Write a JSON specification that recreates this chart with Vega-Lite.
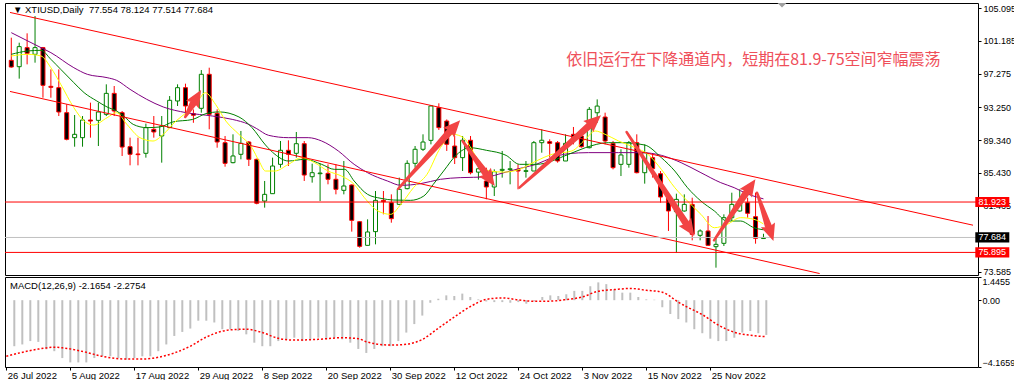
{
  "$schema": "https://vega.github.io/schema/vega-lite/v6.json",
  "background": "#ffffff",
  "padding": {"left": 2, "top": 2, "right": 0, "bottom": 0},
  "spacing": 2,
  "bounds": "flush",
  "config": {
    "view": {"stroke": "#000000", "strokeWidth": 1},
    "axis": {"labelFont": "Liberation Sans", "labelFontSize": 9, "labelColor": "#000000", "tickColor": "#000000", "tickSize": 3, "labelPadding": 2, "grid": false, "domain": false, "labelOverlap": false},
    "text": {"font": "Liberation Sans"}
  },
  "datasets": {
    "candles": [
      {"i":0,"o":98.87,"h":101.58,"l":97.99,"c":98.07},
      {"i":1,"o":98.11,"h":100.98,"l":96.68,"c":100.51},
      {"i":2,"o":100.39,"h":102.10,"l":98.39,"c":99.71},
      {"i":3,"o":99.59,"h":104.17,"l":98.59,"c":100.39},
      {"i":4,"o":100.39,"h":100.47,"l":94.40,"c":95.88},
      {"i":5,"o":95.76,"h":97.79,"l":94.40,"c":95.64},
      {"i":6,"o":95.60,"h":97.79,"l":92.21,"c":92.69},
      {"i":7,"o":92.61,"h":93.61,"l":89.30,"c":89.42},
      {"i":8,"o":89.62,"h":92.33,"l":88.54,"c":90.02},
      {"i":9,"o":89.62,"h":92.21,"l":88.54,"c":91.73},
      {"i":10,"o":91.73,"h":93.81,"l":89.62,"c":91.61},
      {"i":11,"o":91.69,"h":93.81,"l":88.62,"c":92.69},
      {"i":12,"o":92.41,"h":96.00,"l":92.21,"c":94.92},
      {"i":13,"o":94.92,"h":95.80,"l":92.21,"c":92.81},
      {"i":14,"o":92.61,"h":92.81,"l":87.43,"c":88.50},
      {"i":15,"o":88.54,"h":89.62,"l":86.31,"c":87.63},
      {"i":16,"o":87.67,"h":89.62,"l":86.31,"c":87.59},
      {"i":17,"o":87.75,"h":91.30,"l":87.23,"c":90.82},
      {"i":18,"o":90.62,"h":92.21,"l":89.62,"c":90.30},
      {"i":19,"o":89.82,"h":92.21,"l":86.63,"c":91.02},
      {"i":20,"o":90.82,"h":94.60,"l":90.82,"c":94.09},
      {"i":21,"o":94.01,"h":96.00,"l":93.41,"c":95.60},
      {"i":22,"o":95.60,"h":96.08,"l":92.41,"c":93.41},
      {"i":23,"o":92.50,"h":93.00,"l":91.40,"c":92.30},
      {"i":24,"o":93.13,"h":97.71,"l":92.61,"c":97.20},
      {"i":25,"o":97.20,"h":97.99,"l":90.62,"c":92.41},
      {"i":26,"o":92.53,"h":93.01,"l":88.42,"c":89.10},
      {"i":27,"o":89.02,"h":89.82,"l":86.15,"c":86.55},
      {"i":28,"o":86.63,"h":90.02,"l":86.55,"c":87.43},
      {"i":29,"o":87.63,"h":90.42,"l":87.03,"c":88.94},
      {"i":30,"o":89.10,"h":89.22,"l":86.23,"c":87.03},
      {"i":31,"o":87.03,"h":87.11,"l":81.65,"c":81.77},
      {"i":32,"o":82.04,"h":84.44,"l":81.25,"c":82.84},
      {"i":33,"o":82.92,"h":87.23,"l":82.92,"c":86.23},
      {"i":34,"o":86.43,"h":89.22,"l":86.03,"c":88.11},
      {"i":35,"o":88.11,"h":89.30,"l":86.23,"c":87.63},
      {"i":36,"o":87.75,"h":90.30,"l":87.23,"c":88.90},
      {"i":37,"o":88.90,"h":89.22,"l":84.44,"c":85.15},
      {"i":38,"o":84.95,"h":86.51,"l":84.24,"c":85.43},
      {"i":39,"o":85.31,"h":86.51,"l":82.04,"c":85.39},
      {"i":40,"o":85.35,"h":86.43,"l":84.04,"c":84.64},
      {"i":41,"o":84.64,"h":86.43,"l":82.84,"c":83.44},
      {"i":42,"o":83.32,"h":86.83,"l":82.84,"c":83.84},
      {"i":43,"o":83.96,"h":84.04,"l":78.38,"c":79.73},
      {"i":44,"o":79.57,"h":79.65,"l":76.46,"c":76.62},
      {"i":45,"o":76.74,"h":79.85,"l":76.74,"c":78.34},
      {"i":46,"o":78.38,"h":83.24,"l":76.86,"c":82.12},
      {"i":47,"o":82.12,"h":83.24,"l":80.45,"c":81.96},
      {"i":48,"o":81.84,"h":82.84,"l":79.45,"c":79.93},
      {"i":49,"o":81.64,"h":84.84,"l":81.64,"c":83.44},
      {"i":50,"o":83.52,"h":86.91,"l":83.44,"c":86.55},
      {"i":51,"o":86.55,"h":88.62,"l":86.03,"c":88.23},
      {"i":52,"o":88.23,"h":90.02,"l":88.03,"c":89.10},
      {"i":53,"o":89.30,"h":93.53,"l":88.82,"c":93.41},
      {"i":54,"o":93.21,"h":93.73,"l":90.54,"c":90.82},
      {"i":55,"o":91.61,"h":91.80,"l":88.03,"c":88.83},
      {"i":56,"o":88.62,"h":89.82,"l":86.47,"c":87.23},
      {"i":57,"o":87.23,"h":89.82,"l":85.63,"c":89.31},
      {"i":58,"o":89.31,"h":89.82,"l":85.23,"c":85.43},
      {"i":59,"o":85.50,"h":87.00,"l":84.60,"c":85.90},
      {"i":60,"o":84.44,"h":86.03,"l":82.25,"c":83.72},
      {"i":61,"o":83.72,"h":85.83,"l":82.64,"c":85.55},
      {"i":62,"o":85.71,"h":88.03,"l":84.84,"c":85.83},
      {"i":63,"o":85.80,"h":86.83,"l":84.04,"c":85.90},
      {"i":64,"o":85.83,"h":86.43,"l":83.44,"c":85.63},
      {"i":65,"o":85.59,"h":86.83,"l":84.84,"c":85.67},
      {"i":66,"o":85.63,"h":89.22,"l":85.63,"c":89.02},
      {"i":67,"o":89.02,"h":90.62,"l":87.82,"c":89.31},
      {"i":68,"o":89.14,"h":89.42,"l":87.23,"c":88.94},
      {"i":69,"o":89.02,"h":89.22,"l":86.63,"c":86.83},
      {"i":70,"o":86.83,"h":90.02,"l":86.83,"c":88.94},
      {"i":71,"o":90.02,"h":90.90,"l":88.82,"c":89.62},
      {"i":72,"o":89.82,"h":90.42,"l":88.42,"c":88.54},
      {"i":73,"o":88.42,"h":93.29,"l":88.34,"c":93.01},
      {"i":74,"o":92.60,"h":94.20,"l":91.40,"c":93.40},
      {"i":75,"o":92.09,"h":92.61,"l":88.82,"c":89.22},
      {"i":76,"o":88.94,"h":89.22,"l":85.83,"c":86.03},
      {"i":77,"o":86.43,"h":88.23,"l":85.03,"c":87.55},
      {"i":78,"o":86.43,"h":89.22,"l":86.03,"c":89.02},
      {"i":79,"o":89.02,"h":90.02,"l":85.35,"c":85.43},
      {"i":80,"o":85.43,"h":88.82,"l":84.12,"c":87.83},
      {"i":81,"o":87.23,"h":87.63,"l":84.84,"c":85.91},
      {"i":82,"o":85.31,"h":85.63,"l":81.84,"c":82.52},
      {"i":83,"o":82.44,"h":82.64,"l":78.46,"c":80.85},
      {"i":84,"o":80.77,"h":82.92,"l":75.86,"c":82.24},
      {"i":85,"o":80.85,"h":82.84,"l":80.77,"c":81.64},
      {"i":86,"o":81.64,"h":82.44,"l":77.34,"c":78.06},
      {"i":87,"o":77.94,"h":78.65,"l":77.34,"c":78.46},
      {"i":88,"o":78.46,"h":80.25,"l":76.66,"c":76.74},
      {"i":89,"o":76.58,"h":77.66,"l":74.07,"c":76.86},
      {"i":90,"o":76.98,"h":80.45,"l":76.66,"c":80.05},
      {"i":91,"o":80.05,"h":83.04,"l":79.65,"c":81.64},
      {"i":92,"o":80.85,"h":83.44,"l":80.77,"c":81.92},
      {"i":93,"o":81.84,"h":82.44,"l":80.05,"c":80.57},
      {"i":94,"o":80.17,"h":83.04,"l":76.94,"c":77.58},
      {"i":95,"o":77.554,"h":78.124,"l":77.514,"c":77.684}
    ],
    "ma": [
      {"ma":"slow","i":0,"p":102.18},{"ma":"slow","i":3.75,"p":100.39},{"ma":"slow","i":5,"p":99.79},{"ma":"slow","i":7.9,"p":97.99},{"ma":"slow","i":9.6,"p":97.2},{"ma":"slow","i":12.1,"p":96.8},{"ma":"slow","i":13.3,"p":96.48},{"ma":"slow","i":15,"p":95.4},{"ma":"slow","i":17.1,"p":94.21},{"ma":"slow","i":19.2,"p":93.29},{"ma":"slow","i":22.1,"p":92.61},{"ma":"slow","i":25.4,"p":92.21},{"ma":"slow","i":27.9,"p":91.81},{"ma":"slow","i":30,"p":91.21},{"ma":"slow","i":31,"p":90.7},{"ma":"slow","i":32.5,"p":89.9},{"ma":"slow","i":35,"p":89.62},{"ma":"slow","i":37.5,"p":89.62},{"ma":"slow","i":39.2,"p":89.22},{"ma":"slow","i":41.3,"p":88.03},{"ma":"slow","i":43.3,"p":86.43},{"ma":"slow","i":45,"p":85.43},{"ma":"slow","i":47.5,"p":84.44},{"ma":"slow","i":49.2,"p":83.92},{"ma":"slow","i":51.7,"p":84.12},{"ma":"slow","i":54.2,"p":84.64},{"ma":"slow","i":56.7,"p":84.84},{"ma":"slow","i":60,"p":84.92},{"ma":"slow","i":62.1,"p":85.4},{"ma":"slow","i":64.6,"p":86.03},{"ma":"slow","i":66.3,"p":86.43},{"ma":"slow","i":68.3,"p":87.23},{"ma":"slow","i":70.4,"p":87.71},{"ma":"slow","i":72.9,"p":87.83},{"ma":"slow","i":76.7,"p":87.83},{"ma":"slow","i":79.6,"p":87.83},{"ma":"slow","i":82.1,"p":87.51},{"ma":"slow","i":84.6,"p":86.63},{"ma":"slow","i":87.1,"p":85.43},{"ma":"slow","i":89.6,"p":84.24},{"ma":"slow","i":91.3,"p":83.64},{"ma":"slow","i":92.9,"p":82.92},{"ma":"slow","i":95,"p":82.3},
      {"ma":"mid","i":0,"p":99.59},{"ma":"mid","i":2.1,"p":99.99},{"ma":"mid","i":3.75,"p":100.07},{"ma":"mid","i":5,"p":98.99},{"ma":"mid","i":6.25,"p":97.79},{"ma":"mid","i":7.9,"p":96.2},{"ma":"mid","i":9.2,"p":95.0},{"ma":"mid","i":10.8,"p":94.01},{"ma":"mid","i":12.1,"p":93.29},{"ma":"mid","i":13.3,"p":92.81},{"ma":"mid","i":14.2,"p":92.21},{"ma":"mid","i":15.4,"p":91.21},{"ma":"mid","i":17.1,"p":90.82},{"ma":"mid","i":18.75,"p":90.9},{"ma":"mid","i":20.4,"p":91.5},{"ma":"mid","i":22.9,"p":91.8},{"ma":"mid","i":24.6,"p":92.5},{"ma":"mid","i":26.25,"p":92.7},{"ma":"mid","i":28.75,"p":92.1},{"ma":"mid","i":30.4,"p":90.82},{"ma":"mid","i":32.1,"p":88.75},{"ma":"mid","i":33.3,"p":87.63},{"ma":"mid","i":35,"p":86.83},{"ma":"mid","i":37.1,"p":87.03},{"ma":"mid","i":39.2,"p":86.43},{"ma":"mid","i":40.8,"p":85.83},{"ma":"mid","i":42.1,"p":85.83},{"ma":"mid","i":43.3,"p":84.44},{"ma":"mid","i":45,"p":82.84},{"ma":"mid","i":46.7,"p":82.36},{"ma":"mid","i":48.3,"p":82.16},{"ma":"mid","i":50.4,"p":82.12},{"ma":"mid","i":52.1,"p":82.64},{"ma":"mid","i":53.3,"p":84.04},{"ma":"mid","i":54.6,"p":85.63},{"ma":"mid","i":56.3,"p":87.63},{"ma":"mid","i":57.9,"p":88.42},{"ma":"mid","i":60,"p":88.11},{"ma":"mid","i":62.5,"p":87.5},{"ma":"mid","i":64.2,"p":86.43},{"ma":"mid","i":66.3,"p":86.43},{"ma":"mid","i":70.4,"p":87.63},{"ma":"mid","i":72.5,"p":88.42},{"ma":"mid","i":75.4,"p":89.02},{"ma":"mid","i":77.1,"p":89.02},{"ma":"mid","i":80,"p":88.74},{"ma":"mid","i":82.1,"p":87.23},{"ma":"mid","i":83.8,"p":85.63},{"ma":"mid","i":85.4,"p":83.64},{"ma":"mid","i":87.1,"p":82.04},{"ma":"mid","i":88.8,"p":80.85},{"ma":"mid","i":90.4,"p":79.65},{"ma":"mid","i":92.1,"p":79.65},{"ma":"mid","i":93.8,"p":78.85},{"ma":"mid","i":95,"p":78.6},
      {"ma":"fast","i":0,"p":99.39},{"ma":"fast","i":2.1,"p":99.59},{"ma":"fast","i":3.75,"p":99.39},{"ma":"fast","i":5,"p":97.99},{"ma":"fast","i":6.25,"p":96.0},{"ma":"fast","i":7.9,"p":93.21},{"ma":"fast","i":9.2,"p":91.61},{"ma":"fast","i":10.4,"p":91.13},{"ma":"fast","i":12.1,"p":92.01},{"ma":"fast","i":13.3,"p":92.61},{"ma":"fast","i":14.6,"p":91.21},{"ma":"fast","i":16.25,"p":89.62},{"ma":"fast","i":17.9,"p":89.22},{"ma":"fast","i":19.2,"p":90.02},{"ma":"fast","i":20.8,"p":91.61},{"ma":"fast","i":22.1,"p":92.6},{"ma":"fast","i":23.3,"p":93.6},{"ma":"fast","i":24.5,"p":95.0},{"ma":"fast","i":25.8,"p":93.6},{"ma":"fast","i":27.1,"p":91.61},{"ma":"fast","i":28.75,"p":90.02},{"ma":"fast","i":30.4,"p":88.4},{"ma":"fast","i":31.3,"p":86.8},{"ma":"fast","i":32.1,"p":85.63},{"ma":"fast","i":33.3,"p":85.63},{"ma":"fast","i":35,"p":86.43},{"ma":"fast","i":36.7,"p":87.23},{"ma":"fast","i":38.3,"p":86.63},{"ma":"fast","i":40,"p":85.63},{"ma":"fast","i":41.7,"p":85.03},{"ma":"fast","i":43.3,"p":84.04},{"ma":"fast","i":44.6,"p":82.44},{"ma":"fast","i":46.3,"p":80.85},{"ma":"fast","i":47.9,"p":80.45},{"ma":"fast","i":49.2,"p":81.64},{"ma":"fast","i":50.8,"p":83.64},{"ma":"fast","i":52.5,"p":85.23},{"ma":"fast","i":54.2,"p":88.42},{"ma":"fast","i":55.8,"p":90.02},{"ma":"fast","i":57.1,"p":89.62},{"ma":"fast","i":58.8,"p":87.23},{"ma":"fast","i":60.4,"p":85.63},{"ma":"fast","i":62.3,"p":85.5},{"ma":"fast","i":64.2,"p":85.83},{"ma":"fast","i":66.3,"p":86.83},{"ma":"fast","i":68.3,"p":87.63},{"ma":"fast","i":70.8,"p":88.03},{"ma":"fast","i":72.5,"p":89.42},{"ma":"fast","i":73.75,"p":90.42},{"ma":"fast","i":75,"p":90.02},{"ma":"fast","i":76.7,"p":89.22},{"ma":"fast","i":78.8,"p":88.42},{"ma":"fast","i":80.4,"p":87.63},{"ma":"fast","i":82.1,"p":85.83},{"ma":"fast","i":83.8,"p":83.64},{"ma":"fast","i":85.4,"p":82.04},{"ma":"fast","i":87.1,"p":80.45},{"ma":"fast","i":88.8,"p":78.85},{"ma":"fast","i":90.4,"p":79.25},{"ma":"fast","i":92.1,"p":80.05},{"ma":"fast","i":93.8,"p":79.85},{"ma":"fast","i":95,"p":79.3}
    ],
    "channels": [
      {"i0":-0.1625,"p0":104.6,"i1":121.4625,"p1":79.15},
      {"i0":-0.1625,"p0":95.15,"i1":102.09,"p1":73.37}
    ],
    "levels": [
      {"name":"res","level":81.923},
      {"name":"last","level":77.684},
      {"name":"sup","level":75.895}
    ],
    "arrows": [
      {"a":1,"end":0,"i":21.96,"p":92.09},{"a":1,"end":1,"i":22.94,"p":93.67,"heading":30.6},
      {"a":2,"end":0,"i":48.84,"p":83.48},{"a":2,"end":1,"i":55.33,"p":90.29,"heading":42.4},
      {"a":3,"end":0,"i":57.0,"p":89.22},{"a":3,"end":1,"i":59.88,"p":85.39,"heading":144.2},
      {"a":4,"end":0,"i":64.18,"p":83.64},{"a":4,"end":1,"i":72.96,"p":91.03,"heading":48.7},
      {"a":5,"end":0,"i":77.71,"p":90.3},{"a":5,"end":1,"i":85.15,"p":79.46,"heading":146.7},
      {"a":6,"end":0,"i":88.75,"p":77.34},{"a":6,"end":1,"i":92.84,"p":83.06,"heading":34.4},
      {"a":7,"end":0,"i":94.18,"p":83.04},{"a":7,"end":1,"i":95.6,"p":79.08,"heading":161.0}
    ],
    "hist": [
      {"i":1,"v":-2.87},{"i":2,"v":-2.76},{"i":3,"v":-2.55},{"i":4,"v":-2.6},{"i":5,"v":-3.06},{"i":6,"v":-3.18},{"i":7,"v":-3.61},{"i":8,"v":-3.88},{"i":9,"v":-3.88},{"i":10,"v":-3.88},
      {"i":11,"v":-3.61},{"i":12,"v":-3.5},{"i":13,"v":-3.5},{"i":14,"v":-3.61},{"i":15,"v":-3.71},{"i":16,"v":-3.61},{"i":17,"v":-3.5},{"i":18,"v":-3.5},{"i":19,"v":-3.18},{"i":20,"v":-2.76},
      {"i":21,"v":-2.23},{"i":22,"v":-1.98},{"i":23,"v":-1.77},{"i":24,"v":-1.28},{"i":25,"v":-1.28},{"i":26,"v":-1.39},{"i":27,"v":-1.81},{"i":28,"v":-1.81},{"i":29,"v":-1.92},{"i":30,"v":-2.13},
      {"i":31,"v":-2.65},{"i":32,"v":-2.87},{"i":33,"v":-2.87},{"i":34,"v":-2.55},{"i":35,"v":-2.44},{"i":36,"v":-2.34},{"i":37,"v":-2.55},{"i":38,"v":-2.44},{"i":39,"v":-2.34},{"i":40,"v":-2.44},
      {"i":41,"v":-2.34},{"i":42,"v":-2.44},{"i":43,"v":-2.65},{"i":44,"v":-3.04},{"i":45,"v":-3.29},{"i":46,"v":-3.04},{"i":47,"v":-2.87},{"i":48,"v":-2.87},{"i":49,"v":-2.55},{"i":50,"v":-2.02},
      {"i":51,"v":-1.49},{"i":52,"v":-0.96},{"i":53,"v":-0.16},{"i":54,"v":0.09},{"i":55,"v":0.3},{"i":56,"v":0.26},{"i":57,"v":0.41},{"i":58,"v":0.2},{"i":59,"v":0.05},{"i":60,"v":-0.08},
      {"i":61,"v":-0.12},{"i":62,"v":-0.12},{"i":63,"v":-0.16},{"i":64,"v":-0.12},{"i":65,"v":-0.22},{"i":66,"v":-0.08},{"i":67,"v":0.2},{"i":68,"v":0.3},{"i":69,"v":0.26},{"i":70,"v":0.37},
      {"i":71,"v":0.58},{"i":72,"v":0.58},{"i":73,"v":0.87},{"i":74,"v":1.11},{"i":75,"v":1.0},{"i":76,"v":0.68},{"i":77,"v":0.47},{"i":78,"v":0.47},{"i":79,"v":0.2},{"i":80,"v":0.05},
      {"i":81,"v":0.03},{"i":82,"v":-0.44},{"i":83,"v":-0.86},{"i":84,"v":-1.18},{"i":85,"v":-1.39},{"i":86,"v":-1.81},{"i":87,"v":-2.06},{"i":88,"v":-2.4},{"i":89,"v":-2.55},{"i":90,"v":-2.55},
      {"i":91,"v":-2.34},{"i":92,"v":-2.02},{"i":93,"v":-1.92},{"i":94,"v":-2.06},{"i":95,"v":-2.1654}
    ],
    "signal": [
      {"i":0,"v":-3.5},{"i":4,"v":-3.05},{"i":6,"v":-2.93},{"i":7,"v":-2.97},{"i":10,"v":-3.25},{"i":12,"v":-3.5},{"i":15,"v":-3.67},{"i":17,"v":-3.67},{"i":19,"v":-3.56},{"i":21,"v":-3.29},
      {"i":23,"v":-2.87},{"i":25,"v":-2.3},{"i":28,"v":-1.85},{"i":30,"v":-1.81},{"i":32,"v":-2.02},{"i":34,"v":-2.38},{"i":36,"v":-2.49},{"i":39,"v":-2.44},{"i":42,"v":-2.34},{"i":44,"v":-2.4},
      {"i":45,"v":-2.59},{"i":48,"v":-2.8},{"i":50,"v":-2.75},{"i":52,"v":-2.45},{"i":54,"v":-1.75},{"i":56,"v":-1.05},{"i":58,"v":-0.4},{"i":60,"v":0.05},{"i":62,"v":0.14},{"i":64,"v":0.02},
      {"i":66,"v":-0.07},{"i":68,"v":-0.06},{"i":70,"v":0.04},{"i":72,"v":0.2},{"i":74,"v":0.56},{"i":76,"v":0.66},{"i":78,"v":0.73},{"i":80,"v":0.62},{"i":82,"v":0.5},{"i":84,"v":-0.12},
      {"i":85,"v":-0.4},{"i":87,"v":-0.9},{"i":89,"v":-1.55},{"i":91,"v":-2.0},{"i":93,"v":-2.19},{"i":95,"v":-2.2754}
    ]
  },
  "vconcat": [
    {
      "width": 973,
      "height": 272,
      "layer": [
        {
          "data": {"name": "candles"},
          "mark": {"type": "rule", "strokeWidth": 1, "clip": true},
          "encoding": {
            "x": {"field": "i", "type": "quantitative", "scale": {"domain": [-0.1625, 121.4625], "nice": false, "zero": false}, "axis": null, "title": null},
            "y": {"field": "l", "type": "quantitative", "scale": {"domain": [73.193, 105.729], "nice": false, "zero": false}, "title": null,
                  "axis": {"orient": "right", "values": [105.095, 101.185, 97.275, 93.25, 89.34, 85.43, 81.465, 73.585], "tickCount": 20, "format": ".3f", "labelFlush": false, "labelOverlap": false, "title": null}},
            "y2": {"field": "h"},
            "color": {"condition": {"test": "datum.c >= datum.o", "value": "#008000"}, "value": "#ff0000"}
          }
        },
        {
          "data": {"name": "candles"},
          "mark": {"type": "bar", "size": 4, "strokeWidth": 1, "clip": true},
          "encoding": {
            "x": {"field": "i", "type": "quantitative", "axis": null, "title": null},
            "y": {"field": "o", "type": "quantitative", "title": null},
            "y2": {"field": "c"},
            "fill": {"condition": {"test": "datum.c >= datum.o", "value": "#ffffff"}, "value": "#000000"},
            "stroke": {"condition": {"test": "datum.c >= datum.o", "value": "#008000"}, "value": "#ff0000"}
          }
        },
        {
          "data": {"name": "ma"},
          "mark": {"type": "line", "strokeWidth": 1, "interpolate": "monotone", "clip": true},
          "encoding": {
            "x": {"field": "i", "type": "quantitative", "axis": null, "title": null},
            "y": {"field": "p", "type": "quantitative", "title": null},
            "color": {"field": "ma", "type": "nominal", "scale": {"domain": ["fast", "mid", "slow"], "range": ["#ffff00", "#008000", "#800080"]}, "legend": null}
          }
        },
        {
          "data": {"name": "channels"},
          "mark": {"type": "rule", "color": "#ff0000", "strokeWidth": 1, "clip": true},
          "encoding": {
            "x": {"field": "i0", "type": "quantitative", "axis": null, "title": null},
            "x2": {"field": "i1"},
            "y": {"field": "p0", "type": "quantitative", "title": null},
            "y2": {"field": "p1"}
          }
        },
        {
          "data": {"name": "levels"},
          "mark": {"type": "rule", "strokeWidth": 1},
          "encoding": {
            "y": {"field": "level", "type": "quantitative", "title": null},
            "color": {"condition": {"test": "datum.name == 'last'", "value": "#c0c0c0"}, "value": "#ff0000"}
          }
        },
        {
          "data": {"name": "arrows"},
          "mark": {"type": "trail", "color": "#f24444", "clip": true},
          "encoding": {
            "x": {"field": "i", "type": "quantitative", "axis": null, "title": null},
            "y": {"field": "p", "type": "quantitative", "title": null},
            "detail": {"field": "a", "type": "nominal"},
            "order": {"field": "end", "type": "quantitative"},
            "size": {"field": "end", "type": "quantitative", "scale": {"domain": [0, 1], "range": [2.5, 7]}, "legend": null}
          }
        },
        {
          "data": {"name": "arrows"},
          "transform": [{"filter": "datum.end == 1"}],
          "mark": {"type": "point", "shape": "M0,-1.6L0.75,0.1L0,-0.15L-0.75,0.1Z", "size": 400, "filled": true, "opacity": 1, "color": "#f24444", "strokeWidth": 0},
          "encoding": {
            "x": {"field": "i", "type": "quantitative", "axis": null, "title": null},
            "y": {"field": "p", "type": "quantitative", "title": null},
            "angle": {"field": "heading", "type": "quantitative", "scale": {"domain": [0, 360], "range": [0, 360]}, "legend": null}
          }
        },
        {
          "data": {"name": "levels"},
          "mark": {"type": "point", "shape": "M-1,-0.3L1,-0.3L1,0.3L-1,0.3Z", "size": 1156, "filled": true, "opacity": 1, "strokeWidth": 0},
          "encoding": {
            "x": {"datum": 123.9, "type": "quantitative", "axis": null},
            "y": {"field": "level", "type": "quantitative", "title": null},
            "color": {"condition": {"test": "datum.name == 'last'", "value": "#000000"}, "value": "#ff0000"}
          }
        },
        {
          "data": {"name": "levels"},
          "mark": {"type": "text", "align": "center", "baseline": "middle", "fontSize": 9, "color": "#ffffff", "font": "Liberation Sans"},
          "encoding": {
            "x": {"datum": 123.9, "type": "quantitative", "axis": null},
            "y": {"field": "level", "type": "quantitative", "title": null},
            "text": {"field": "level", "format": ".3f"}
          }
        },
        {
          "data": {"values": [{"label": "▼ XTIUSD,Daily \u00a077.554 78.124 77.514 77.684"}]},
          "mark": {"type": "text", "align": "left", "baseline": "middle", "fontSize": 9.5, "color": "#000000", "font": "Liberation Sans"},
          "encoding": {
            "x": {"datum": 0.2125, "type": "quantitative", "axis": null},
            "y": {"datum": 104.89, "type": "quantitative"},
            "text": {"field": "label"}
          }
        },
        {
          "data": {"values": [{"label": "依旧运行在下降通道内，短期在81.9-75空间窄幅震荡"}]},
          "mark": {"type": "text", "align": "left", "baseline": "middle", "fontSize": 16, "color": "#ef4f5a", "font": "Noto Sans CJK SC"},
          "encoding": {
            "x": {"datum": 70.0875, "type": "quantitative", "axis": null},
            "y": {"datum": 98.91, "type": "quantitative"},
            "text": {"field": "label"}
          }
        },
        {
          "data": {"values": [{"label": "shift"}]},
          "mark": {"type": "point", "shape": "M-1,-0.5L1,-0.5L0,0.5Z", "size": 81, "filled": true, "opacity": 1, "color": "#a0a0a0", "strokeWidth": 0},
          "encoding": {
            "x": {"datum": 97.34, "type": "quantitative", "axis": null},
            "y": {"datum": 105.45, "type": "quantitative"}
          }
        }
      ]
    },
    {
      "width": 973,
      "height": 90,
      "layer": [
        {
          "data": {"name": "hist"},
          "mark": {"type": "rule", "strokeWidth": 2, "color": "#c0c0c0"},
          "encoding": {
            "x": {"field": "i", "type": "quantitative", "scale": {"domain": [-0.1625, 121.4625], "nice": false, "zero": false}, "title": null,
                  "axis": {"orient": "bottom", "values": [0, 8, 16, 24, 32, 40, 48, 56, 64, 72, 80, 88], "tickCount": 30, "labelExpr": "['26 Jul 2022','5 Aug 2022','17 Aug 2022','29 Aug 2022','8 Sep 2022','20 Sep 2022','30 Sep 2022','12 Oct 2022','24 Oct 2022','3 Nov 2022','15 Nov 2022','25 Nov 2022'][round(datum.value/8)]", "labelAlign": "left", "labelBaseline": "top", "labelFlush": false, "labelOverlap": false, "labelOffset": 1, "tickSize": 3, "labelPadding": 0, "labelFontSize": 9.5, "title": null}},
            "y": {"field": "v", "type": "quantitative", "scale": {"domain": [-4.1659, 1.4455], "nice": false, "zero": false}, "title": null,
                  "axis": {"orient": "right", "values": [1.4455, 0, -4.1659], "tickCount": 10, "labelPadding": 1, "labelExpr": "datum.value == 0 ? '0.00' : format(datum.value, '.4f')", "labelFlush": true, "labelOverlap": false, "title": null}},
            "y2": {"datum": 0}
          }
        },
        {
          "data": {"name": "signal"},
          "mark": {"type": "line", "color": "#ff0000", "strokeWidth": 1.5, "strokeDash": [2, 2], "interpolate": "monotone"},
          "encoding": {
            "x": {"field": "i", "type": "quantitative", "title": null},
            "y": {"field": "v", "type": "quantitative", "title": null}
          }
        },
        {
          "data": {"values": [{"label": "MACD(12,26,9) -2.1654 -2.2754"}]},
          "mark": {"type": "text", "align": "left", "baseline": "middle", "fontSize": 9.5, "color": "#000000", "font": "Liberation Sans"},
          "encoding": {
            "x": {"datum": 0.4625, "type": "quantitative"},
            "y": {"datum": 0.884, "type": "quantitative"},
            "text": {"field": "label"}
          }
        }
      ]
    }
  ]
}
